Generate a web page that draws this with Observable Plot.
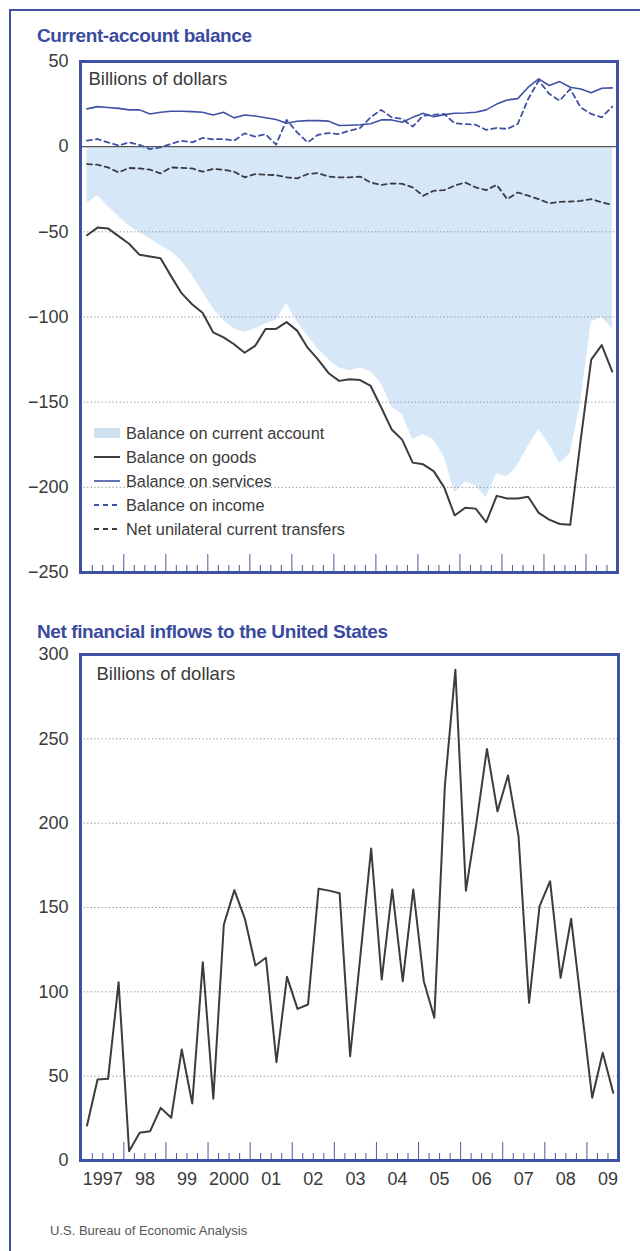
<!DOCTYPE html>
<html><head><meta charset="utf-8">
<script src="https://cdn.jsdelivr.net/npm/d3@7"></script>
<script src="https://cdn.jsdelivr.net/npm/@observablehq/plot@0.6"></script>
<style>
html,body{margin:0;padding:0;background:#fff;overflow:hidden}
#page{position:relative;width:640px;height:1251px;overflow:hidden;background:#fff;font-family:"Liberation Sans",Arial,Helvetica,sans-serif}
#outer{position:absolute;left:9px;top:9px;width:700px;height:1300px;border:2.5px solid #3f51a3;box-sizing:border-box}
#c1{position:absolute;left:0;top:0}
#c2{position:absolute;left:0;top:600px}
#ov{position:absolute;left:0;top:0;pointer-events:none}
</style></head>
<body><div id="page"><div id="outer"></div><div id="c1"></div><div id="c2"></div><svg id="ov" width="640" height="1251"></svg></div>
<script>
// Quarterly data, 1997Q1 – 2009Q3 (billions of dollars)
const startYear = 1997;
const currentAccount = [-33.5,-28.7,-35,-41,-46.5,-50.5,-54,-58,-61.5,-67,
  -75.5,-85,-95,-102,-107,-109,-107,-104,-102,-92,
  -103,-111,-119,-125,-130,-131.5,-130,-132,-139,-153,
  -157,-172,-169,-172,-182,-203,-197,-199,-206,-192,
  -194,-187,-176,-166,-175,-186,-180,-150,-103,-100,
  -107];
const goods = [-52,-47.5,-48,-52.5,-57,-63.5,-64.5,-65.5,-76,-86,
  -92.5,-97.5,-109,-112,-116,-121,-117,-107,-107,-103,
  -108,-118,-125,-133,-137.5,-136.5,-137,-140.5,-153,-166,
  -172,-185.5,-186.5,-190.5,-200,-216.5,-212,-212.5,-220.5,-205,
  -206.5,-206.5,-205.5,-215,-219,-221.5,-222,-172,-125,-116.5,
  -132];
const services = [22.2,23.5,23,22.5,21.6,21.6,19.2,20.2,20.8,20.8,
  20.6,20.2,18.6,20.2,16.9,18.6,18,17,15.9,13.7,
  14.9,15.3,15.3,15,12.4,12.6,12.9,13.5,15.7,15.7,
  14.3,17.2,19.6,17.6,18.8,19.6,19.8,20.2,21.6,25,
  27.4,28.2,34.9,39.8,35.9,38.2,34.9,33.9,31.6,34.3,
  34.5];
const income = [3.5,4.5,2.5,0.6,2.5,1,-1.4,-0.4,1.6,3.5,
  2.5,5.1,4.3,4.5,3.5,7.8,5.9,7.3,1.2,15.7,
  8.4,2.5,7,8,7.4,9.4,11,17.2,21.6,17.2,
  16.3,11.8,18.2,18.7,19.2,13.7,13.3,12.9,9.8,11,
  10.4,13.3,28,38.8,31,27,33.9,23,19.2,17.2,
  23.5];
const transfers = [-10.2,-10.6,-12.2,-15.1,-12.5,-12.8,-13.5,-15.7,-12.2,-12.5,
  -12.8,-14.7,-13.1,-13.5,-14.7,-18,-16.1,-16.5,-16.7,-18,
  -18.6,-16.1,-15.5,-17.6,-18,-18,-17.6,-21,-22.5,-21.6,
  -21.8,-23.9,-28.8,-25.9,-25.5,-22.9,-21,-23.9,-25.5,-22.4,
  -30.8,-26.9,-28.8,-30.8,-33.3,-32.4,-32.2,-31.8,-30.8,-32.7,
  -34.3];
const inflows = [20.7,48,48.4,105.7,5.5,16.4,17.4,31.2,25.3,65.8,
  33.8,117.6,36.6,139.9,160.3,143.3,115.6,120.2,58.3,108.9,
  89.9,92.5,161.1,160,158.5,61.8,123,185,107.3,160.7,
  106.3,160.7,106.3,84.6,222,291,160,200,244,207,
  228.3,192.3,93.5,150.8,165.6,108.3,143.3,90,37.2,63.9,
  40.1];
const yearLabels = ["1997","98","99","2000","01","02","03","04","05","06","07","08","09"];
const yTicksTop = [50,0,-50,-100,-150,-200,-250];
const gridTop = [-50,-100,-150,-200];
const yTicksBottom = [0,50,100,150,200,250,300];
const gridBottom = [50,100,150,200,250];

const blue = "#3f51a3", dark = "#3b3b42", textCol = "#3a3a3a", areaCol = "#d6e8f8", tickCol = "#4a5a9e";
const font = "'Liberation Sans', Arial, Helvetica, sans-serif";
const xDomain = [1996.97, 2009.75];
const rows = goods.map((g, i) => ({
  x: startYear + (i + 0.5) / 4,
  ca: currentAccount[i], goods: g, services: services[i], income: income[i], transfers: transfers[i], inflow: inflows[i]
}));
const qTicks = d3.range(1, 51).map(i => startYear + i / 4);
const major = qTicks.filter(d => Number.isInteger(d));
const minor = qTicks.filter(d => !Number.isInteger(d));
const yearMids = yearLabels.map((_, i) => startYear + i + 0.5);
const minusFmt = d => d < 0 ? "\u2212" + Math.abs(d) : String(d);

const style = {fontFamily: font, fontSize: "18px", color: textCol, background: "transparent", overflow: "visible"};

// tick lengths in pixels converted through each chart's own y scale span
const top1 = {lo: -250, hi: 50, px: 511};
const top2 = {lo: 0, hi: 300, px: 506};
const len = (c, p) => (c.hi - c.lo) * p / c.px;

const chart1 = Plot.plot({
  width: 640, height: 590,
  marginTop: 61, marginBottom: 18, marginLeft: 80, marginRight: 23,
  style,
  x: {domain: xDomain, axis: null},
  y: {domain: [top1.lo, top1.hi], ticks: yTicksTop, tickSize: 0, tickPadding: 12, tickFormat: minusFmt, label: null},
  marks: [
    Plot.areaY(rows, {x: "x", y1: 0, y2: "ca", fill: areaCol}),
    Plot.ruleY(gridTop, {stroke: "#8a8a8a", strokeDasharray: "1.2,2.4", strokeWidth: 1}),
    Plot.ruleY([0], {stroke: "#555", strokeWidth: 1.2}),
    Plot.lineY(rows, {x: "x", y: "transfers", stroke: dark, strokeWidth: 1.8, strokeDasharray: "5,4"}),
    Plot.lineY(rows, {x: "x", y: "income", stroke: blue, strokeWidth: 1.8, strokeDasharray: "5,4"}),
    Plot.lineY(rows, {x: "x", y: "services", stroke: blue, strokeWidth: 1.6}),
    Plot.lineY(rows, {x: "x", y: "goods", stroke: dark, strokeWidth: 2}),
    Plot.ruleX(minor, {x: d => d, y1: top1.lo, y2: top1.lo + len(top1, 7), stroke: tickCol, strokeWidth: 1}),
    Plot.ruleX(major, {x: d => d, y1: top1.lo, y2: top1.lo + len(top1, 18), stroke: tickCol, strokeWidth: 1}),
    Plot.frame({stroke: blue, strokeWidth: 3}),
    Plot.text(["Billions of dollars"], {frameAnchor: "top-left", dx: 8, dy: 10, lineAnchor: "top", textAnchor: "start", fill: textCol, fontSize: 18.5})
  ]
});
document.getElementById("c1").appendChild(chart1);

const chart2 = Plot.plot({
  width: 640, height: 600,
  marginTop: 54, marginBottom: 40, marginLeft: 80, marginRight: 22,
  style,
  x: {domain: xDomain, ticks: yearMids, tickSize: 0, tickPadding: 12, tickFormat: d => yearLabels[Math.floor(d) - startYear], label: null},
  y: {domain: [top2.lo, top2.hi], ticks: yTicksBottom, tickSize: 0, tickPadding: 12, label: null},
  marks: [
    Plot.ruleY(gridBottom, {stroke: "#8a8a8a", strokeDasharray: "1.2,2.4", strokeWidth: 1}),
    Plot.lineY(rows, {x: "x", y: "inflow", stroke: dark, strokeWidth: 2}),
    Plot.ruleX(minor, {x: d => d, y1: top2.lo, y2: top2.lo + len(top2, 7), stroke: tickCol, strokeWidth: 1}),
    Plot.ruleX(major, {x: d => d, y1: top2.lo, y2: top2.lo + len(top2, 18), stroke: tickCol, strokeWidth: 1}),
    Plot.frame({stroke: blue, strokeWidth: 3}),
    Plot.text(["Billions of dollars"], {frameAnchor: "top-left", dx: 16, dy: 12, lineAnchor: "top", textAnchor: "start", fill: textCol, fontSize: 18.5})
  ]
});
document.getElementById("c2").appendChild(chart2);

// Titles, legend, source
const ov = d3.select("#ov");
const titleCol = "#3a4b9e";
ov.append("text").attr("x", 37).attr("y", 42).text("Current-account balance")
  .attr("fill", titleCol).attr("font-family", font).attr("font-weight", "bold").attr("font-size", 19).attr("letter-spacing", "-0.4");
ov.append("text").attr("x", 37).attr("y", 638).text("Net financial inflows to the United States")
  .attr("fill", titleCol).attr("font-family", font).attr("font-weight", "bold").attr("font-size", 19).attr("letter-spacing", "-0.4");

const legendItems = [
  {label: "Balance on current account", type: "area"},
  {label: "Balance on goods", type: "line", color: dark, dash: null, w: 2},
  {label: "Balance on services", type: "line", color: blue, dash: null, w: 1.6},
  {label: "Balance on income", type: "line", color: blue, dash: "5,4", w: 1.8},
  {label: "Net unilateral current transfers", type: "line", color: dark, dash: "5,4", w: 1.8}
];
legendItems.forEach((d, i) => {
  const cy = 433 + i * 24;
  if (d.type === "area") {
    ov.append("rect").attr("x", 94).attr("y", cy - 5).attr("width", 26).attr("height", 10).attr("fill", "#cfe0ee");
  } else {
    ov.append("line").attr("x1", 94).attr("x2", 120).attr("y1", cy).attr("y2", cy)
      .attr("stroke", d.color).attr("stroke-width", d.w).attr("stroke-dasharray", d.dash);
  }
  ov.append("text").attr("x", 126).attr("y", cy + 6).text(d.label)
    .attr("fill", textCol).attr("font-family", font).attr("font-size", 16.3);
});
ov.append("text").attr("x", 50).attr("y", 1235).text("U.S. Bureau of Economic Analysis")
  .attr("fill", "#555").attr("font-family", font).attr("font-size", 13);
</script></body></html>
